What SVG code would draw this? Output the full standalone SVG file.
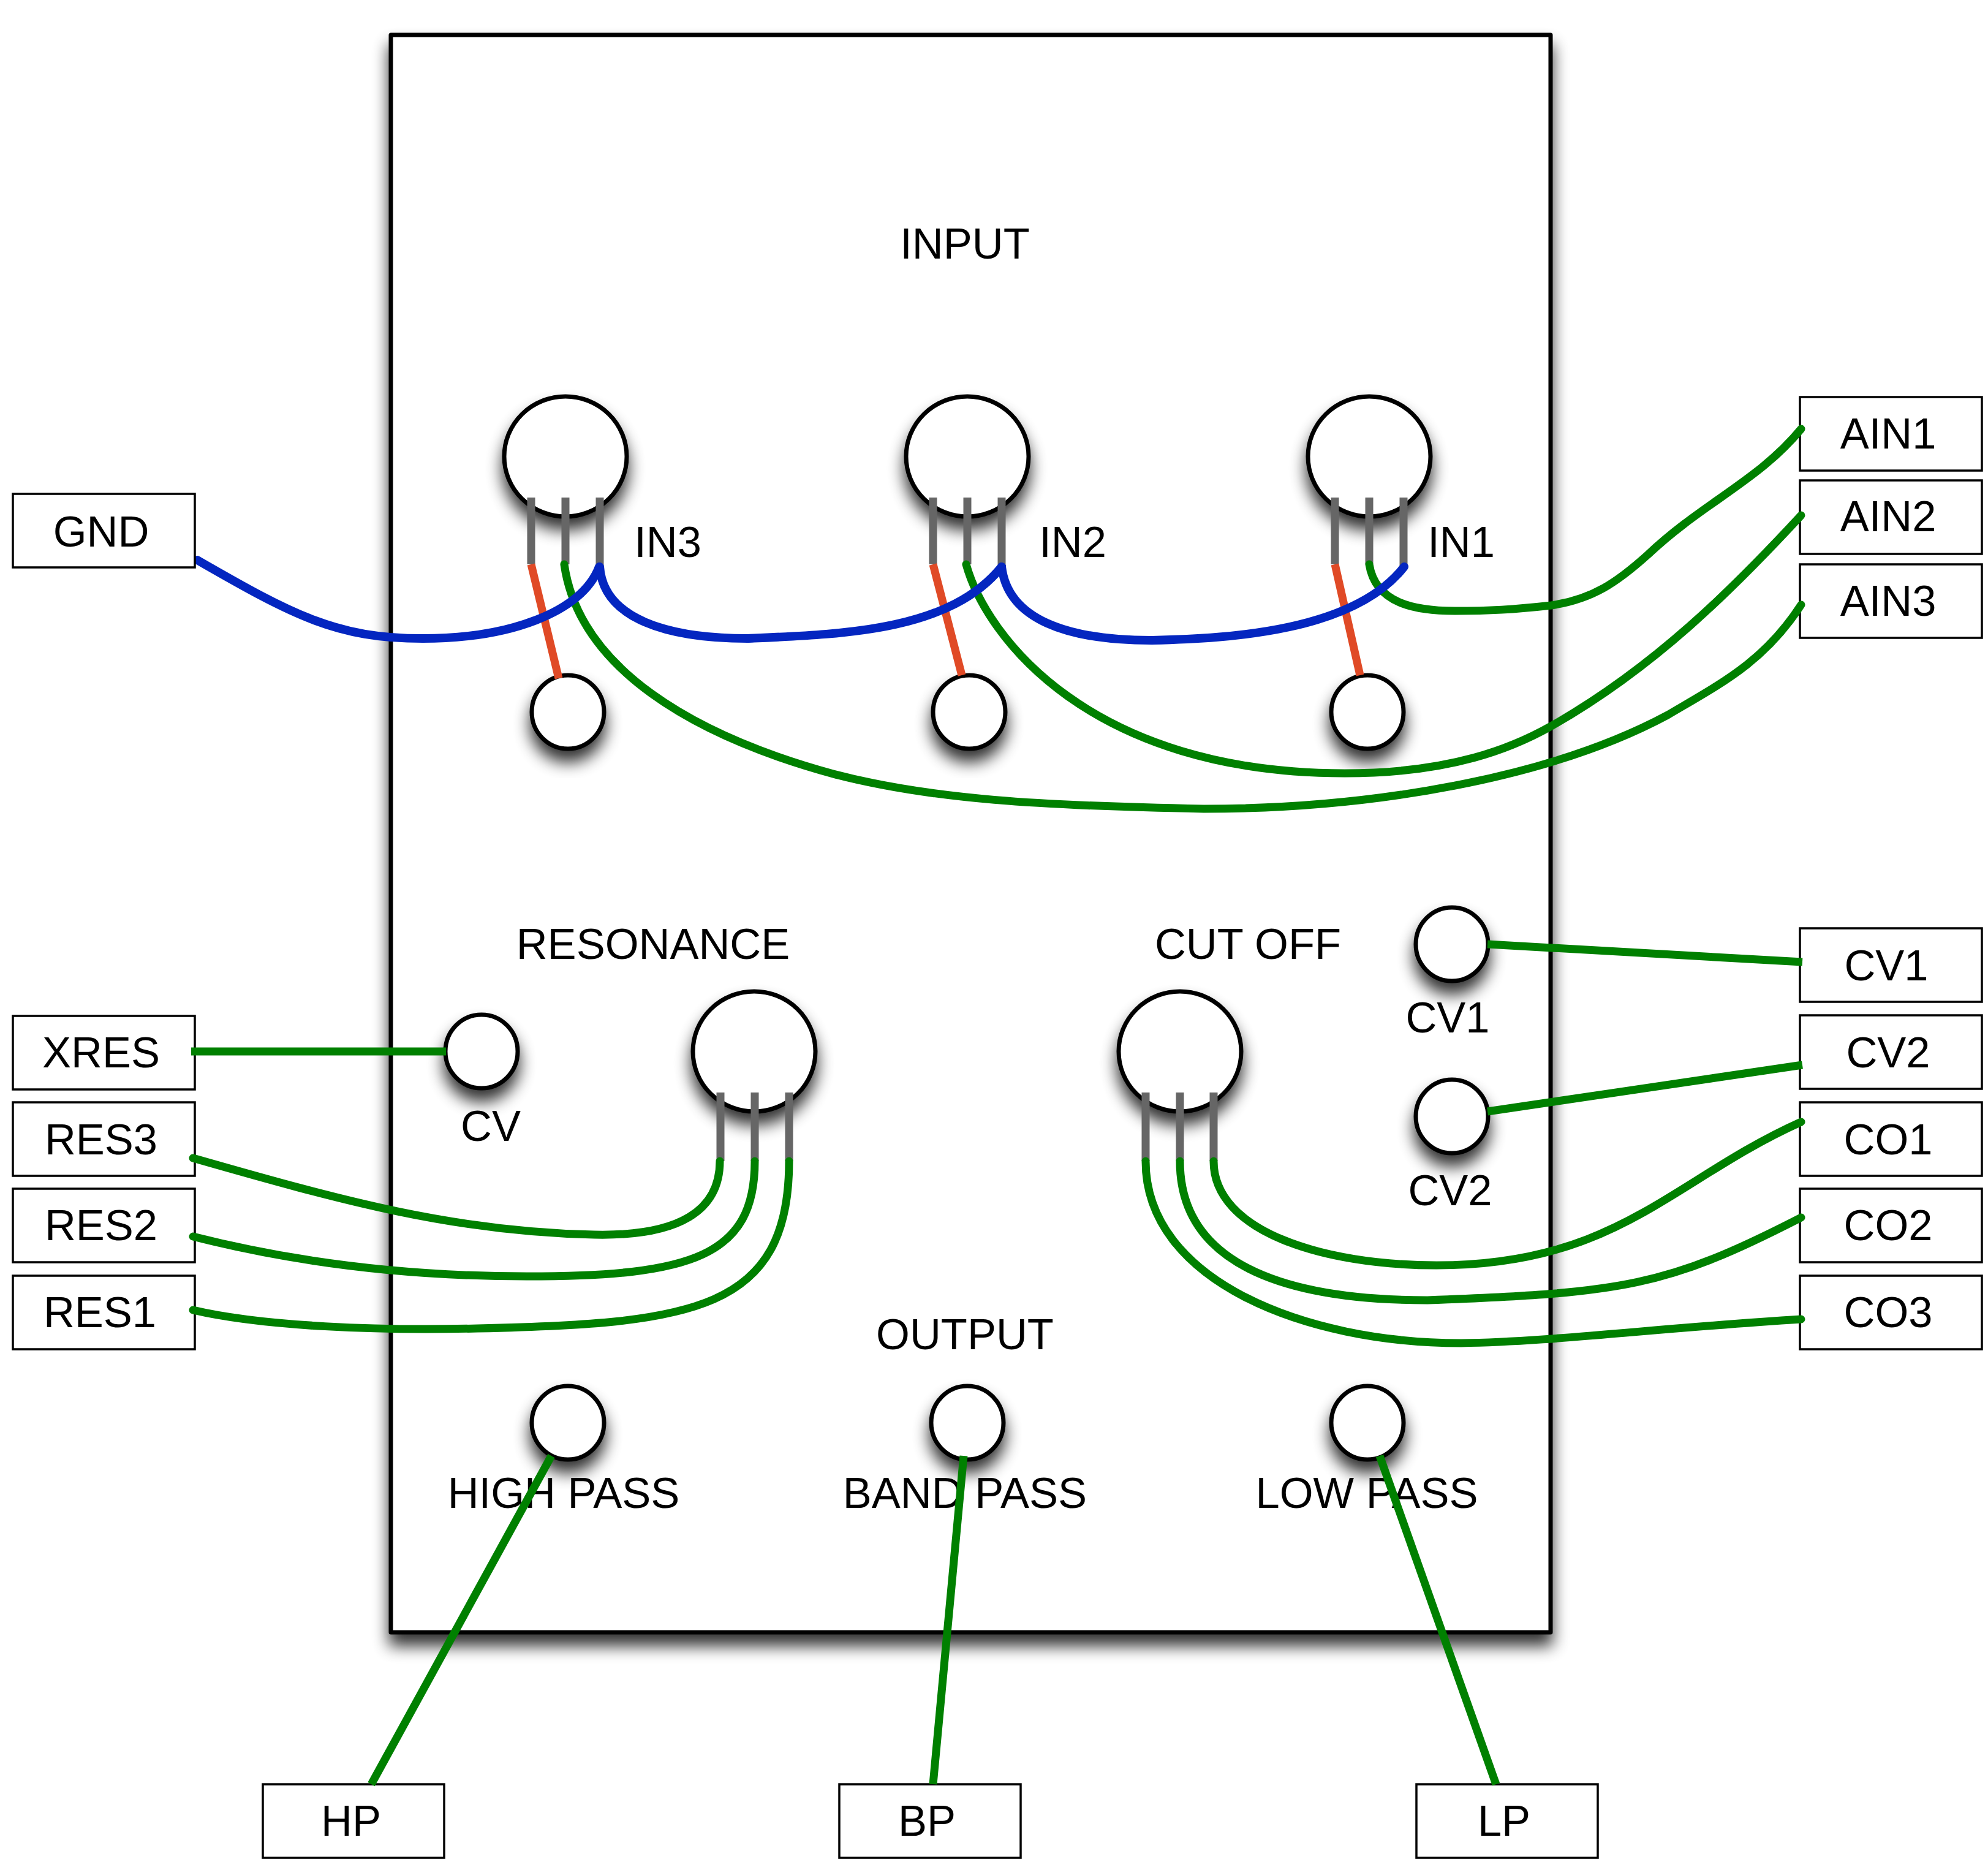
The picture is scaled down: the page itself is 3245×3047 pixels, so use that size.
<svg xmlns="http://www.w3.org/2000/svg" width="3245" height="3047" viewBox="0 0 3245 3047">
<style>
text{font-family:"Liberation Sans",Arial,sans-serif;font-size:70.5px;fill:#000;text-anchor:middle}
.panel{fill:#fff;stroke:#000;stroke-width:7;stroke-linejoin:round;filter:url(#sh)}
.knob{fill:#fff;stroke:#000;stroke-width:7;filter:url(#sh)}
.box{fill:#fff;stroke:#000;stroke-width:3.5}
.pin{stroke:#666;stroke-width:13;fill:none}
.g{stroke:#008000;stroke-width:13;fill:none;stroke-linecap:round}
.s{stroke:#008000;stroke-width:13;fill:none}
.b{stroke:#0426c0;stroke-width:14;fill:none;stroke-linecap:round}
.r{stroke:#e04a26;stroke-width:13;fill:none}
</style>
<defs>
<filter id="sh" x="-30%" y="-30%" width="160%" height="170%" color-interpolation-filters="sRGB">
<feGaussianBlur in="SourceAlpha" stdDeviation="13"/><feOffset dy="19"/><feComponentTransfer><feFuncA type="linear" slope="0.8"/></feComponentTransfer>
<feMerge><feMergeNode/><feMergeNode in="SourceGraphic"/></feMerge>
</filter>
</defs>
<rect width="3245" height="3047" fill="#fff"/>
<g id="panel"><rect class="panel" x="638" y="57" width="1893" height="2607"/>
<text x="1575" y="422">INPUT</text><text x="1066" y="1565">RESONANCE</text><text x="2037" y="1565">CUT OFF</text><text x="1575" y="2202">OUTPUT</text></g>
<g id="in3"><ellipse class="knob" cx="923" cy="745" rx="100" ry="98"/><path class="pin" d="M867 812V921M923 812V921M979 812V925"/><text x="1090" y="909">IN3</text></g>
<g id="in2"><ellipse class="knob" cx="1579" cy="745" rx="100" ry="98"/><path class="pin" d="M1523 812V921M1579 812V921M1635 812V925"/><text x="1751" y="909">IN2</text></g>
<g id="in1"><ellipse class="knob" cx="2235" cy="745" rx="100" ry="98"/><path class="pin" d="M2179 812V921M2235 812V921M2291 812V925"/><text x="2385" y="909">IN1</text></g>
<g id="s3"><ellipse class="knob" cx="927" cy="1162" rx="59" ry="60"/></g>
<g id="s2"><ellipse class="knob" cx="1582" cy="1162" rx="59" ry="60"/></g>
<g id="s1"><ellipse class="knob" cx="2232" cy="1162" rx="59" ry="60"/></g>
<g id="res"><ellipse class="knob" cx="1231" cy="1716" rx="100" ry="98"/><path class="pin" d="M1176 1783V1895M1232 1783V1895M1288 1783V1895"/></g>
<g id="cut"><ellipse class="knob" cx="1926" cy="1716" rx="100" ry="98"/><path class="pin" d="M1870 1783V1895M1926 1783V1895M1981 1783V1895"/></g>
<g id="cv"><ellipse class="knob" cx="786" cy="1716" rx="59" ry="60"/><text x="801" y="1862">CV</text></g>
<g id="cv1"><ellipse class="knob" cx="2370" cy="1541" rx="59" ry="60"/><text x="2363" y="1685">CV1</text></g>
<g id="cv2"><ellipse class="knob" cx="2370" cy="1822" rx="59" ry="60"/><text x="2367" y="1967">CV2</text></g>
<g id="hp"><ellipse class="knob" cx="927" cy="2322" rx="59" ry="60"/><text x="920" y="2461">HIGH PASS</text></g>
<g id="bp"><ellipse class="knob" cx="1579" cy="2322" rx="59" ry="60"/><text x="1575" y="2461">BAND PASS</text></g>
<g id="lp"><ellipse class="knob" cx="2232" cy="2322" rx="59" ry="60"/><text x="2231" y="2461">LOW PASS</text></g>
<g id="XRES"><rect class="box" x="21" y="1658" width="297" height="120"/><text x="165" y="1742">XRES</text></g>
<g id="RES3"><rect class="box" x="21" y="1799" width="297" height="120"/><text x="165" y="1884">RES3</text></g>
<g id="RES2"><rect class="box" x="21" y="1940" width="297" height="120"/><text x="165" y="2024">RES2</text></g>
<g id="RES1"><rect class="box" x="21" y="2082" width="297" height="120"/><text x="163" y="2166">RES1</text></g>
<g id="AIN1"><rect class="box" x="2938" y="648" width="297" height="120"/><text x="3082" y="732">AIN1</text></g>
<g id="AIN2"><rect class="box" x="2938" y="784" width="297" height="120"/><text x="3082" y="867">AIN2</text></g>
<g id="AIN3"><rect class="box" x="2938" y="921" width="297" height="120"/><text x="3082" y="1005">AIN3</text></g>
<g id="CV1"><rect class="box" x="2938" y="1515" width="297" height="120"/><text x="3079" y="1600">CV1</text></g>
<g id="CV2"><rect class="box" x="2938" y="1657" width="297" height="120"/><text x="3082" y="1742">CV2</text></g>
<g id="CO1"><rect class="box" x="2938" y="1799" width="297" height="120"/><text x="3082" y="1884">CO1</text></g>
<g id="CO2"><rect class="box" x="2938" y="1940" width="297" height="120"/><text x="3082" y="2024">CO2</text></g>
<g id="CO3"><rect class="box" x="2938" y="2082" width="297" height="120"/><text x="3082" y="2166">CO3</text></g>
<g id="HP"><rect class="box" x="429" y="2912" width="296" height="120"/><text x="573" y="2996">HP</text></g>
<g id="BP"><rect class="box" x="1370" y="2912" width="296" height="120"/><text x="1513" y="2996">BP</text></g>
<g id="LP"><rect class="box" x="2312" y="2912" width="296" height="120"/><text x="2455" y="2996">LP</text></g>
<g id="connectors">
<path class="r" d="M867 921L912 1107M1523 921L1570 1102M2179 921L2220 1102"/>
<path class="g" d="M921 921C945 1090 1130 1200 1360 1263C1520 1305 1700 1315 1965 1320C2240 1320 2530 1270 2722 1167C2810 1115 2880 1080 2940 987"/>
<path class="g" d="M1577 921C1610 1040 1780 1262 2195 1262C2370 1262 2470 1220 2532 1185C2700 1090 2830 960 2940 841"/>
<path class="g" d="M2235 921C2245 985 2310 997 2375 997C2430 997 2470 995 2532 988C2600 978 2640 950 2690 905C2780 820 2870 785 2940 700"/>
<path class="b" d="M322 914C480 1005 550 1042 690 1042C830 1042 950 1000 978 925"/>
<path class="b" d="M979 925C985 1010 1090 1042 1220 1042C1380 1035 1550 1030 1635 925"/>
<path class="b" d="M1635 925C1645 1010 1740 1045 1880 1045C2010 1042 2210 1030 2292 925"/>
<path class="g" d="M315 1890C560 1960 740 2010 970 2015C1110 2018 1175 1975 1175 1895"/>
<path class="g" d="M315 2018C500 2065 680 2083 860 2083C1130 2083 1232 2050 1232 1895"/>
<path class="g" d="M315 2138C430 2165 620 2172 780 2168C1130 2160 1288 2140 1288 1895"/>
<path class="g" d="M1981 1895C1981 2010 2160 2065 2345 2065C2640 2065 2730 1925 2940 1831"/>
<path class="g" d="M1926 1895C1926 2060 2090 2122 2330 2122C2650 2110 2720 2100 2940 1987"/>
<path class="g" d="M1870 1895C1870 2090 2130 2192 2385 2192C2530 2190 2700 2168 2940 2153"/>
<path class="s" d="M312 1716H728M2428 1541L2942 1570M2428 1814L2942 1738M900 2376L606 2912M1573 2376L1523 2912M2252 2376L2442 2912"/>
</g>
<g id="GND"><rect class="box" x="21" y="806" width="297" height="120"/><text x="165" y="892">GND</text></g>
</svg>
